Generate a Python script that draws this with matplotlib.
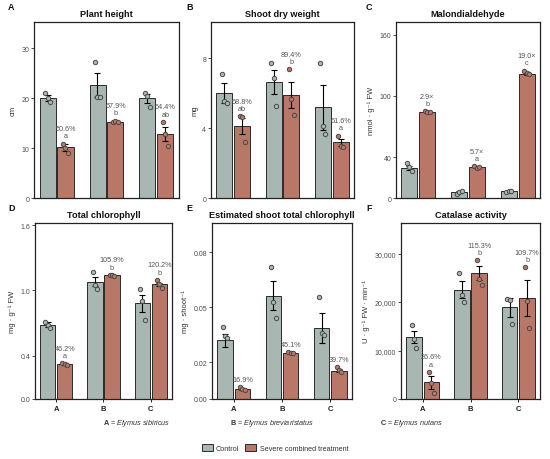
import matplotlib
matplotlib.use("Agg")
import matplotlib.pyplot as plt
import numpy as np
from matplotlib.ticker import FuncFormatter
from matplotlib.patches import Patch

plt.rcParams['font.family'] = ['Liberation Sans', 'DejaVu Sans']
plt.rcParams['mathtext.fontset'] = 'custom'
plt.rcParams['mathtext.rm'] = 'Liberation Sans'
plt.rcParams['mathtext.it'] = 'Liberation Sans:italic'
plt.rcParams['mathtext.bf'] = 'Liberation Sans:bold'

species = ["A", "B", "C"]
species_names = ["Elymus sibiricus", "Elymus breviaristatus", "Elymus nutans"]
legend_labels = ["Control", "Severe combined treatment"]

# Plant height (cm)
height_ctrl = [20.1, 22.6, 20.0]
height_ctrl_se = [0.6, 2.4, 0.9]
height_trt = [10.2, 15.3, 12.9]
height_trt_se = [0.7, 0.2, 1.4]
height_ctrl_pts = [[21.1, 20.1, 19.3], [27.3, 20.3, 20.3], [21.1, 20.5, 18.3]]
height_trt_pts = [[10.9, 10.1, 9.1], [15.2, 15.4, 15.3], [15.2, 12.9, 10.5]]
height_lab = ["50.6%\na", "67.9%\nb", "64.4%\nab"]

# Shoot dry weight (mg)
sdw_ctrl = [6.0, 6.64, 5.2]
sdw_ctrl_se = [0.58, 0.7, 1.3]
sdw_trt = [4.13, 5.91, 3.2]
sdw_trt_se = [0.45, 0.75, 0.2]
sdw_ctrl_pts = [[7.1, 5.53, 5.43], [7.73, 6.9, 5.26], [7.75, 4.15, 3.67]]
sdw_trt_pts = [[4.67, 4.65, 3.18], [7.37, 5.68, 4.73], [3.58, 3.0, 2.95]]
sdw_lab = ["68.8%\nab", "89.4%\nb", "61.6%\na"]

# Malondialdehyde
mda_ctrl = [29.4, 5.9, 6.9]
mda_ctrl_se = [2.3, 1.0, 0.4]
mda_trt = [84.6, 30.4, 121.2]
mda_trt_se = [0.3, 0.5, 1.0]
mda_ctrl_pts = [[34.3, 30.0, 26.0], [3.6, 5.6, 6.9], [6.2, 7.2, 7.2]]
mda_trt_pts = [[84.9, 84.6, 84.3], [31.0, 29.7, 30.4], [124.8, 122.5, 121.2]]
mda_lab = ["2.9\u00d7\nb", "5.7\u00d7\na", "19.0\u00d7\nc"]

# Total chlorophyll
chl_ctrl = [0.685, 1.08, 0.88]
chl_ctrl_se = [0.02, 0.04, 0.08]
chl_trt = [0.318, 1.138, 1.055]
chl_trt_se = [0.005, 0.003, 0.015]
chl_ctrl_pts = [[0.706, 0.682, 0.657], [1.165, 1.049, 1.012], [1.012, 0.905, 0.731]]
chl_trt_pts = [[0.327, 0.318, 0.312], [1.14, 1.138, 1.135], [1.095, 1.058, 1.021]]
chl_lab = ["46.2%\na", "105.9%\nb", "120.2%\nb"]

# Estimated shoot total chlorophyll
est_ctrl = [0.0321, 0.0564, 0.0386]
est_ctrl_se = [0.0036, 0.008, 0.0083]
est_trt = [0.0056, 0.0252, 0.0154]
est_trt_se = [0.0005, 0.0002, 0.0008]
est_ctrl_pts = [[0.0392, 0.0343, 0.0334], [0.0718, 0.0528, 0.0444], [0.0555, 0.0361, 0.035]]
est_trt_pts = [[0.0065, 0.0053, 0.0047], [0.0254, 0.0252, 0.0250], [0.0174, 0.0156, 0.0145]]
est_lab = ["16.9%", "45.1%", "39.7%"]

# Catalase activity
cat_ctrl = [12770, 22580, 18880]
cat_ctrl_se = [1250, 1700, 1880]
cat_trt = [3430, 25950, 20800]
cat_trt_se = [1270, 1480, 3670]
cat_ctrl_pts = [[15170, 12420, 10570], [26010, 21480, 19970], [20590, 20380, 15440]]
cat_trt_pts = [[5630, 3300, 1240], [28620, 24780, 23470], [27180, 20180, 14550]]
cat_lab = ["26.6%\na", "115.3%\nb", "109.7%\nb"]

panels = [
    dict(letter="A", title="Plant height", ylabel="cm", ctrl=height_ctrl, ctrl_se=height_ctrl_se,
         trt=height_trt, trt_se=height_trt_se, cp=height_ctrl_pts, tp=height_trt_pts, lab=height_lab,
         ylim=35.3, ticks=[0, 10, 20, 30], fmt=None, box=(34, 179, 22.7, 199)),
    dict(letter="B", title="Shoot dry weight", ylabel="mg", ctrl=sdw_ctrl, ctrl_se=sdw_ctrl_se,
         trt=sdw_trt, trt_se=sdw_trt_se, cp=sdw_ctrl_pts, tp=sdw_trt_pts, lab=sdw_lab,
         ylim=10.1, ticks=[0, 4, 8], fmt=None, box=(211, 354, 22.7, 199)),
    dict(letter="C", title="Malondialdehyde", ylabel="nmol \u00b7 g\u207b\u00b9 FW", ctrl=mda_ctrl, ctrl_se=mda_ctrl_se,
         trt=mda_trt, trt_se=mda_trt_se, cp=mda_ctrl_pts, tp=mda_trt_pts, lab=mda_lab,
         ylim=172.7, ticks=[0, 40, 100, 160], fmt=None, box=(396, 540, 22.7, 199)),
    dict(letter="D", title="Total chlorophyll", ylabel="mg \u00b7 g\u207b\u00b9 FW", ctrl=chl_ctrl, ctrl_se=chl_ctrl_se,
         trt=chl_trt, trt_se=chl_trt_se, cp=chl_ctrl_pts, tp=chl_trt_pts, lab=chl_lab,
         ylim=1.62, ticks=[0.0, 0.4, 1.0, 1.6], fmt="{:.1f}", box=(35, 172, 224, 400)),
    dict(letter="E", title="Estimated shoot total chlorophyll", ylabel="mg \u00b7 shoot\u207b\u00b9", ctrl=est_ctrl, ctrl_se=est_ctrl_se,
         trt=est_trt, trt_se=est_trt_se, cp=est_ctrl_pts, tp=est_trt_pts, lab=est_lab,
         ylim=0.096, ticks=[0.0, 0.02, 0.05, 0.08], fmt="{:.2f}", box=(212, 352, 224, 400)),
    dict(letter="F", title="Catalase activity", ylabel="U \u00b7 g\u207b\u00b9 FW \u00b7 min\u207b\u00b9", ctrl=cat_ctrl, ctrl_se=cat_ctrl_se,
         trt=cat_trt, trt_se=cat_trt_se, cp=cat_ctrl_pts, tp=cat_trt_pts, lab=cat_lab,
         ylim=36300, ticks=[0, 10000, 20000, 30000], fmt="{:,.0f}", box=(401, 540, 224, 400)),
]

C_CTRL = "#a8b7b2"
C_TRT = "#b97867"
EDGE = "#2a2a2a"
TXT = "#555555"
W, H = 550, 460

fig = plt.figure(figsize=(5.5, 4.6), dpi=100)
x = np.arange(1, 4)
bw = 0.32
off = 0.18
jit = np.array([-0.05, 0.0, 0.05])

for i, p in enumerate(panels):
    x0, x1, yt, yb = p["box"]
    ax = fig.add_axes([x0 / W, 1 - yb / H, (x1 - x0) / W, (yb - yt) / H])
    xc = x - off
    xt = x + off
    ax.bar(xc, p["ctrl"], width=bw, color=C_CTRL, edgecolor=EDGE, linewidth=0.7, zorder=2)
    ax.bar(xt, p["trt"], width=bw, color=C_TRT, edgecolor=EDGE, linewidth=0.7, zorder=2)
    ax.errorbar(xc, p["ctrl"], yerr=p["ctrl_se"], fmt="none", ecolor="black", elinewidth=0.8,
                capsize=2.5, capthick=0.8, zorder=3)
    ax.errorbar(xt, p["trt"], yerr=p["trt_se"], fmt="none", ecolor="black", elinewidth=0.8,
                capsize=2.5, capthick=0.8, zorder=3)
    for g in range(3):
        ax.scatter(xc[g] + jit, p["cp"][g], s=10, facecolor=C_CTRL, edgecolor="#4a4a4a",
                   linewidths=0.7, zorder=4)
        ax.scatter(xt[g] + jit, p["tp"][g], s=10, facecolor=C_TRT, edgecolor="#4a4a4a",
                   linewidths=0.7, zorder=4)
        top = max(p["trt"][g] + p["trt_se"][g], max(p["tp"][g]))
        ax.annotate(p["lab"][g], (xt[g], top), xytext=(0, 3), textcoords="offset points",
                    ha="center", va="bottom", fontsize=5.2, color=TXT, linespacing=1.1, zorder=5)
    ax.set_xlim(0.55, 3.45)
    ax.set_ylim(0, p["ylim"])
    ax.set_yticks(p["ticks"])
    if p["fmt"]:
        f = p["fmt"]
        ax.yaxis.set_major_formatter(FuncFormatter(lambda v, pos, f=f: f.format(v)))
    ax.set_xticks(x)
    if i >= 3:
        ax.set_xticklabels(species, fontweight="bold", fontsize=5.5, color="#222222")
        ax.tick_params(axis="x", length=2, width=0.6, pad=2)
    else:
        ax.set_xticklabels([])
        ax.tick_params(axis="x", length=0)
    ax.tick_params(axis="y", length=2, width=0.6, labelsize=5, labelcolor="#4d4d4d", pad=1.5, color="#333333")
    for s in ax.spines.values():
        s.set_linewidth(0.9)
        s.set_color("#222222")
    ax.set_ylabel(p["ylabel"], fontsize=5.5, color="#333333", labelpad=3)
    ax.set_title(p["title"], fontsize=6.6, fontweight="bold", pad=4, color="#111111")
    fig.text((8 if x0 < 100 else (186 if x0 < 300 else 366)) / W, 1 - (yt - 15) / H, p["letter"],
             fontsize=6.5, fontweight="bold", ha="left", va="center", color="#111111")

# Species key
for k, cx in enumerate([137, 272, 411]):
    name = species_names[k].replace(' ', '\\ ')
    fig.text(cx / W, 1 - 424 / H, f"$\\mathbf{{{species[k]}}}$ = $\\mathit{{{name}}}$",
             fontsize=5.2, ha="center", va="center", color="#333333")

handles = [Patch(facecolor=C_CTRL, edgecolor=EDGE, linewidth=0.7),
           Patch(facecolor=C_TRT, edgecolor=EDGE, linewidth=0.7)]
fig.legend(handles, legend_labels, loc="center", bbox_to_anchor=(275 / W, 1 - 449 / H), ncol=2,
           frameon=False, fontsize=5.2, handlelength=1.5, handleheight=1.1, columnspacing=0.8,
           handletextpad=0.5, labelcolor="#333333")

fig.savefig("out.png", dpi=100)
